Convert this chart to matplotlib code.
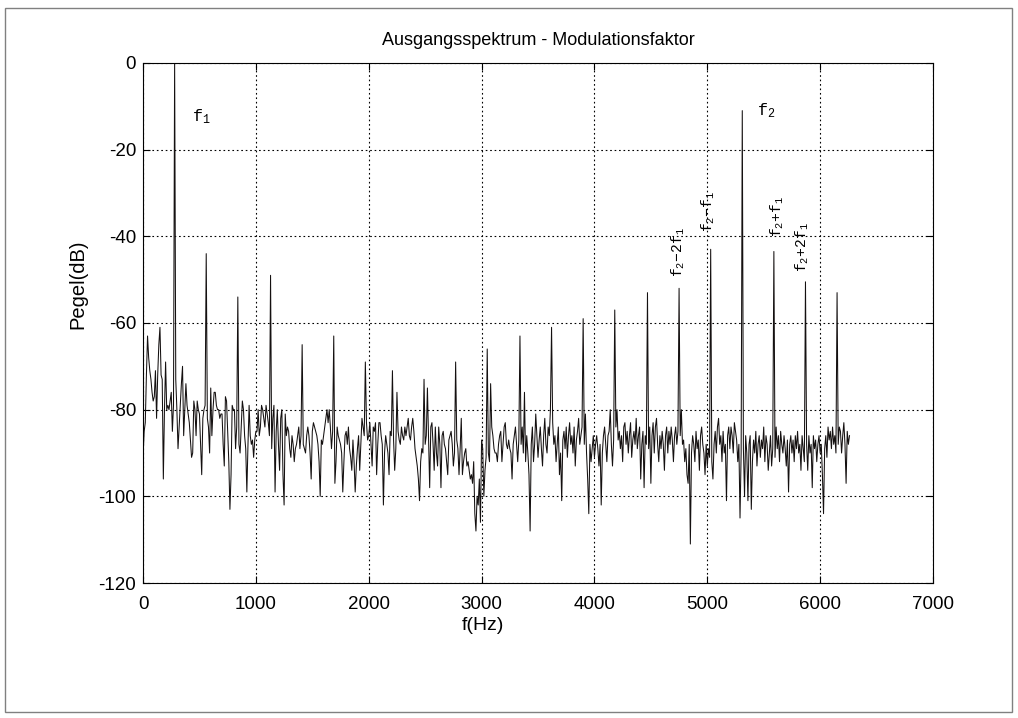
import numpy as np
import matplotlib
matplotlib.use('Agg')
import matplotlib.pyplot as plt
from matplotlib.patches import Rectangle

# spectrum levels, one value per 10 Hz bin (0 ... 6260 Hz)
df_hz = 10
pegel_db = [
    # 0 - 190 Hz
    -91, -85, -83, -72, -63, -68, -71, -73, -76, -78, -77, -71, -82, -72, -65, -61, -72, -73, -96, -80,
    # 200 - 390
    -69, -80, -79, -80, -78, -76, -85, -79, 0, -73, -80, -89, -84, -79, -74, -70, -86, -80, -74, -79,
    # 400 - 590
    -81, -83, -87, -91, -90, -78, -80, -86, -78, -80, -81, -88, -95, -82, -80, -79, -44, -82, -84, -90,
    # 600 - 790
    -75, -86, -80, -76, -76, -79, -80, -80, -82, -81, -81, -88, -93, -77, -78, -85, -92, -103, -95, -79,
    # 800 - 990
    -80, -80, -89, -84, -54, -88, -90, -84, -78, -80, -86, -89, -99, -88, -79, -86, -88, -87, -91, -87,
    # 1000 - 1190
    -85, -85, -80, -86, -84, -79, -80, -82, -84, -79, -81, -83, -86, -49, -89, -82, -79, -99, -85, -80,
    # 1200 - 1390
    -88, -94, -82, -80, -95, -102, -81, -86, -84, -85, -89, -91, -86, -88, -92, -89, -88, -86, -84, -89,
    # 1400 - 1590
    -86, -65, -88, -89, -90, -86, -84, -86, -90, -96, -85, -83, -84, -85, -86, -88, -92, -100, -87, -88,
    # 1600 - 1790
    -86, -84, -82, -80, -83, -80, -84, -89, -85, -63, -97, -92, -84, -86, -87, -88, -90, -99, -92, -86,
    # 1800 - 1990
    -85, -88, -84, -89, -91, -94, -87, -92, -99, -93, -89, -86, -94, -88, -82, -84, -86, -69, -83, -87,
    # 2000 - 2190
    -86, -83, -88, -93, -84, -85, -83, -95, -88, -83, -83, -86, -88, -102, -90, -86, -88, -90, -95, -85,
    # 2200 - 2390
    -86, -71, -87, -94, -89, -76, -85, -87, -88, -84, -86, -87, -84, -86, -84, -82, -86, -87, -84, -82,
    # 2400 - 2590
    -85, -89, -91, -93, -96, -101, -92, -89, -90, -73, -88, -86, -75, -87, -98, -84, -83, -88, -94, -84,
    # 2600 - 2790
    -90, -93, -84, -88, -98, -86, -85, -88, -89, -92, -95, -87, -86, -85, -88, -93, -90, -69, -87, -89,
    # 2800 - 2990
    -95, -89, -82, -95, -92, -90, -89, -93, -92, -94, -96, -95, -97, -92, -104, -108, -100, -102, -96, -106,
    # 3000 - 3190
    -87, -89, -100, -94, -91, -66, -90, -92, -74, -84, -86, -89, -90, -90, -92, -88, -86, -85, -92, -88,
    # 3200 - 3390
    -84, -83, -88, -89, -87, -89, -90, -96, -88, -86, -84, -88, -92, -87, -63, -88, -84, -90, -76, -92,
    # 3400 - 3590
    -86, -90, -95, -108, -88, -84, -92, -88, -81, -86, -91, -87, -84, -89, -93, -86, -82, -88, -90, -84,
    # 3600 - 3790
    -86, -80, -61, -83, -88, -86, -92, -88, -84, -95, -90, -101, -87, -85, -89, -84, -91, -86, -83, -88,
    # 3800 - 3990
    -86, -90, -84, -93, -87, -85, -82, -88, -86, -84, -59, -88, -81, -90, -96, -104, -88, -92, -89, -86,
    # 4000 - 4190
    -91, -88, -86, -89, -93, -88, -102, -90, -86, -84, -88, -92, -86, -85, -80, -88, -93, -87, -57, -84,
    # 4200 - 4390
    -80, -87, -85, -89, -86, -92, -84, -83, -88, -85, -90, -86, -83, -91, -87, -85, -88, -82, -89, -86,
    # 4400 - 4590
    -84, -96, -88, -85, -98, -86, -88, -53, -89, -84, -97, -86, -83, -90, -84, -82, -88, -92, -86, -89,
    # 4600 - 4790
    -85, -88, -94, -86, -84, -90, -85, -88, -84, -87, -92, -86, -84, -88, -85, -52, -86, -80, -88, -87,
    # 4800 - 4990
    -92, -89, -95, -97, -88, -111, -90, -86, -88, -92, -85, -89, -87, -94, -86, -84, -88, -90, -95, -88,
    # 5000 - 5190
    -93, -89, -91, -43, -92, -96, -88, -85, -90, -84, -82, -88, -86, -92, -85, -90, -88, -101, -86, -84,
    # 5200 - 5390
    -89, -84, -86, -90, -83, -85, -87, -92, -88, -105, -90, -11, -89, -100, -86, -90, -101, -88, -86, -103,
    # 5400 - 5590
    -92, -87, -90, -85, -93, -88, -86, -91, -87, -89, -84, -92, -86, -88, -94, -90, -86, -93, -89, -43.5,
    # 5600 - 5790
    -91, -84, -89, -86, -92, -85, -88, -90, -86, -89, -93, -87, -99, -88, -86, -90, -87, -92, -86, -89,
    # 5800 - 5990
    -85, -90, -88, -94, -86, -89, -92, -50.5, -88, -94, -86, -90, -88, -98, -86, -89, -87, -92, -88, -86,
    # 6000 - 6190
    -90, -88, -95, -104, -89, -86, -91, -84, -87, -85, -89, -84, -88, -86, -90, -53, -88, -84, -85, -90,
    # 6200 - 6260
    -86, -83, -88, -97, -85, -88, -86,
]
f_hz = np.arange(len(pegel_db)) * df_hz

x_ticks = [0, 1000, 2000, 3000, 4000, 5000, 6000, 7000]
y_ticks = [-120, -100, -80, -60, -40, -20, 0]

plt.rcParams['font.family'] = ['Liberation Sans', 'DejaVu Sans']
plt.rcParams['axes.unicode_minus'] = False
plt.rcParams['mathtext.fontset'] = 'custom'
plt.rcParams['mathtext.rm'] = 'Liberation Mono'
plt.rcParams['mathtext.it'] = 'Liberation Mono'

fig = plt.figure(figsize=(10.18, 7.18), dpi=100)
fig.patches.append(Rectangle((5 / 1018, 6 / 718), 1007 / 1018, 704 / 718,
                             transform=fig.transFigure, fill=False,
                             edgecolor='#808080', lw=1))

ax = fig.add_axes([0.1405, 0.188, 0.776, 0.7243])
ax.plot(f_hz, pegel_db, color='#141010', lw=0.75)
ax.set_xlim(0, 7000)
ax.set_ylim(-120, 0)
ax.set_xticks(x_ticks)
ax.set_yticks(y_ticks)
ax.grid(True, color='black', linestyle=(0, (1.5, 2.5)), lw=0.8)
ax.tick_params(direction='in', length=5, labelsize=13.5, top=True, right=True)
ax.tick_params(axis='x', pad=9)
ax.tick_params(axis='y', pad=5)
for s in ax.spines.values():
    s.set_linewidth(0.8)

ax.set_title('Ausgangsspektrum - Modulationsfaktor', fontsize=13, pad=13)
ax.set_xlabel('f(Hz)', fontsize=14)
ax.xaxis.set_label_coords(0.43, -0.066)
ax.set_ylabel('Pegel(dB)', fontsize=14.5)
ax.yaxis.set_label_coords(-0.07, 0.575)

# peak labels
ax.text(430, -12.5, r'$\mathrm{f_1}$', fontsize=12, ha='left', va='center')
ax.text(5440, -11, r'$\mathrm{f_2}$', fontsize=12, ha='left', va='center')
ax.text(4745, -49.5, r'$\mathrm{f_2\!-\!2f_1}$', fontsize=10.5, rotation=90, ha='center', va='bottom')
ax.text(5005, -39, r'$\mathrm{f_2\!-\!f_1}$', fontsize=10.5, rotation=90, ha='center', va='bottom')
ax.text(5617, -40.2, r'$\mathrm{f_2\!+\!f_1}$', fontsize=10.5, rotation=90, ha='center', va='bottom')
ax.text(5840, -48.2, r'$\mathrm{f_2\!+\!2f_1}$', fontsize=10.5, rotation=90, ha='center', va='bottom')

plt.savefig('out.png', dpi=100)
